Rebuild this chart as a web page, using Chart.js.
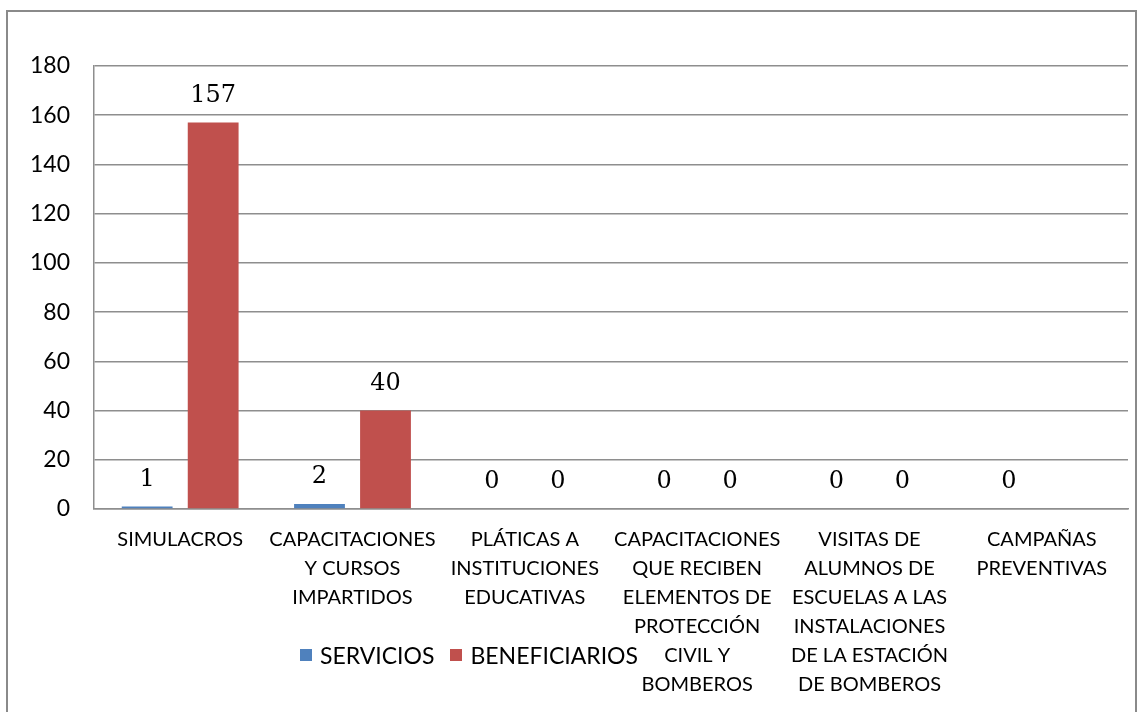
<!DOCTYPE html>
<html>
<head>
<meta charset="utf-8">
<script src="https://cdn.jsdelivr.net/npm/chart.js@4.4.1/dist/chart.umd.min.js"></script>
<style>
  html, body { margin: 0; padding: 0; background: #fff; }
  #frame {
    position: absolute; left: 6px; top: 10px; width: 1131px; height: 740px;
    border: 2px solid #8a8a8a; box-sizing: border-box;
  }
  #wrap { position: absolute; left: 0; top: 0; width: 1143px; height: 712px; }
  #legend {
    position: absolute; left: 300px; top: 641px;
    font-family: Lato, sans-serif; font-size: 23px; color: #000;
    display: flex; align-items: center; white-space: nowrap;
  }
  #legend .item { display: flex; align-items: center; margin-right: 16px; }
  #legend .box { width: 12px; height: 12px; margin-right: 8px; }
</style>
</head>
<body>
<div id="frame"></div>
<div id="wrap"><canvas id="chart"></canvas></div>
<div id="legend"></div>
<script>
/* Servicios / beneficiarios por tipo de actividad */
const categories = [
  ['SIMULACROS'],
  ['CAPACITACIONES', 'Y CURSOS', 'IMPARTIDOS'],
  ['PLÁTICAS A', 'INSTITUCIONES', 'EDUCATIVAS'],
  ['CAPACITACIONES', 'QUE RECIBEN', 'ELEMENTOS DE', 'PROTECCIÓN', 'CIVIL Y', 'BOMBEROS'],
  ['VISITAS DE', 'ALUMNOS DE', 'ESCUELAS A LAS', 'INSTALACIONES', 'DE LA ESTACIÓN', 'DE BOMBEROS'],
  ['CAMPAÑAS', 'PREVENTIVAS'],
];
const servicios = [1, 2, 0, 0, 0, 0];
const beneficiarios = [157, 40, 0, 0, 0, null];

const COLORS = { servicios: '#4f81bd', beneficiarios: '#c0504d' };
const gridColor = '#8e8e8e';

const valueLabels = {
  id: 'valueLabels',
  afterDatasetsDraw(chart) {
    const { ctx } = chart;
    ctx.save();
    ctx.font = '24px "DejaVu Serif", serif';
    ctx.fillStyle = '#000';
    ctx.textAlign = 'center';
    ctx.textBaseline = 'middle';
    chart.data.datasets.forEach((ds, i) => {
      chart.getDatasetMeta(i).data.forEach((bar, j) => {
        const v = ds.data[j];
        if (v === null || v === undefined) return;
        ctx.fillText(String(v), bar.x, bar.y - 27);
      });
    });
    ctx.restore();
  },
};

const chart = new Chart(document.getElementById('chart').getContext('2d'), {
  type: 'bar',
  data: {
    labels: categories,
    datasets: [
      { label: 'SERVICIOS', data: servicios, backgroundColor: COLORS.servicios },
      { label: 'BENEFICIARIOS', data: beneficiarios, backgroundColor: COLORS.beneficiarios },
    ],
  },
  options: {
    responsive: true,
    maintainAspectRatio: false,
    animation: false,
    layout: { padding: { left: 10, right: 15, top: 66, bottom: 0 } },
    datasets: { bar: { categoryPercentage: 0.766, barPercentage: 0.77 } },
    plugins: { legend: { display: false }, tooltip: { enabled: false } },
    scales: {
      x: {
        grid: { display: false, drawTicks: false },
        border: { display: true, color: gridColor, width: 1.5 },
        ticks: {
          color: '#000',
          autoSkip: false,
          maxRotation: 0,
          padding: 16,
          font: { family: 'Lato', size: 20, lineHeight: 1.45 },
        },
        afterFit: (s) => { s.height = 203; },
      },
      y: {
        min: 0,
        max: 180,
        ticks: {
          stepSize: 20,
          color: '#000',
          padding: 24,
          font: { family: 'Lato', size: 23 },
        },
        grid: { color: gridColor, lineWidth: 1.5, drawTicks: false },
        border: { display: true, color: gridColor, width: 1.5 },
        afterFit: (s) => { s.width = 84; },
      },
    },
  },
  plugins: [valueLabels],
});

// leyenda en HTML, encima de las etiquetas (como en el original)
const legend = document.getElementById('legend');
chart.data.datasets.forEach((ds) => {
  legend.innerHTML += `<div class="item"><div class="box" style="background:${ds.backgroundColor}"></div>${ds.label}</div>`;
});
</script>
</body>
</html>
